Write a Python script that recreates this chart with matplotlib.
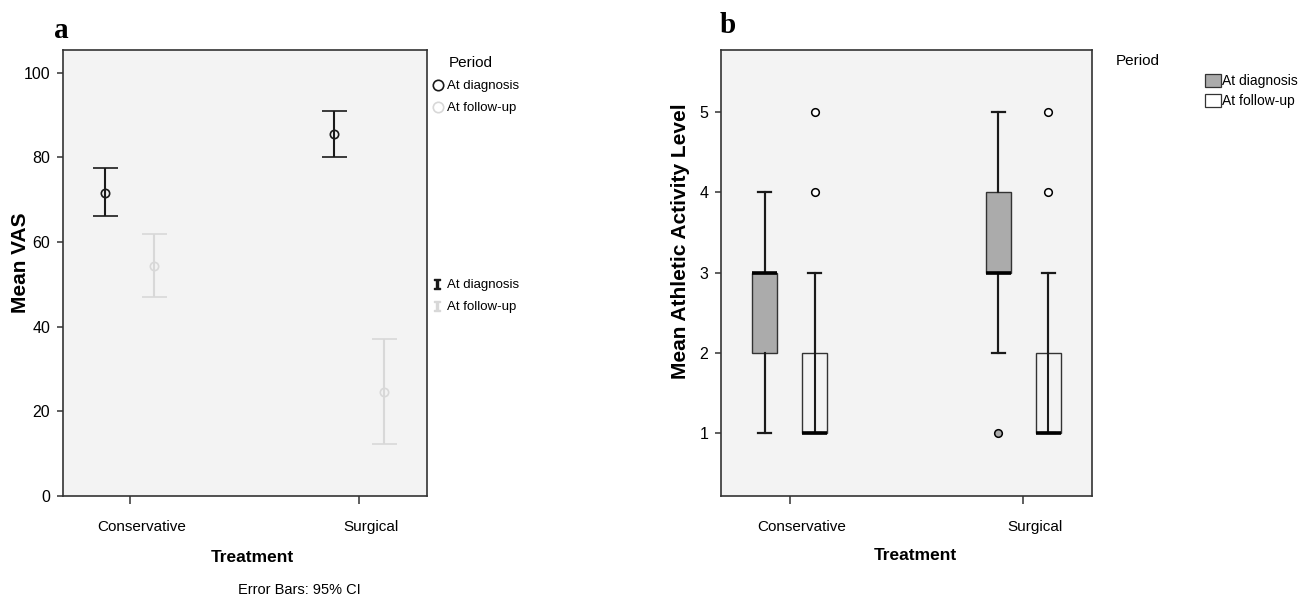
import matplotlib
matplotlib.use("Agg")
import numpy as np
from matplotlib import pyplot as plt
from matplotlib import transforms, font_manager
from matplotlib.lines import Line2D
from matplotlib.patches import Patch

# ---- data ----
treatments = ["Conservative", "Surgical"]
periods = ["At diagnosis", "At follow-up"]

# panel a: mean VAS with 95% CI
vas_mean_diag = [71.7, 85.5]
vas_low_diag = [66.1, 80.2]
vas_high_diag = [77.5, 91.0]
vas_mean_fu = [54.4, 24.6]
vas_low_fu = [47.1, 12.4]
vas_high_fu = [61.8, 37.1]

# panel b: athletic activity level boxplots
act_whislo_diag = [1, 2]
act_q1_diag = [2, 3]
act_med_diag = [3, 3]
act_q3_diag = [3, 4]
act_whishi_diag = [4, 5]
act_fliers_diag = [[], [1]]

act_whislo_fu = [1, 1]
act_q1_fu = [1, 1]
act_med_fu = [1, 1]
act_q3_fu = [2, 2]
act_whishi_fu = [3, 3]
act_fliers_fu = [[4, 5], [4, 5]]

# ---- style ----
W, H = 1310, 598
installed = {f.name for f in font_manager.fontManager.ttflist}
if "Liberation Sans Narrow" in installed:
    plt.rcParams['font.family'] = ["Liberation Sans Narrow", "DejaVu Sans"]
    k = 1.12   # narrow font can be set a bit larger
else:
    plt.rcParams['font.family'] = ["Liberation Sans", "DejaVu Sans"]
    k = 1.0
BG = "#f3f3f3"
DARK = "#1a1a1a"
LIGHT = "#d8d8d8"
GRAY = "#ababab"
SPINE = "#333333"
off = 0.107


def px(x, y):
    return x / W, 1 - y / H


fig = plt.figure(figsize=(W / 100, H / 100), dpi=100)


def style_axes(ax):
    ax.set_facecolor(BG)
    for s in ax.spines.values():
        s.set_color(SPINE)
        s.set_linewidth(1.2)
    ax.tick_params(axis='y', length=4.5, width=1.1, pad=4.5, labelsize=11.5 * k, color=SPINE)
    ax.tick_params(axis='x', length=6, width=1.1, pad=11, labelsize=11 * k, color=SPINE)
    ax.set_xticks([0, 1])
    ax.set_xticklabels(treatments)
    shift = transforms.ScaledTranslation(0.12, 0, fig.dpi_scale_trans)
    for lab in ax.get_xticklabels():
        lab.set_transform(lab.get_transform() + shift)


# ---- panel a ----
ax1 = fig.add_axes([62.7 / W, 102 / H, 364 / W, 446 / H])
style_axes(ax1)
x = np.arange(len(treatments))
m = np.array(vas_mean_diag)
ax1.errorbar(x - off, m, yerr=[m - np.array(vas_low_diag), np.array(vas_high_diag) - m],
             fmt='o', mfc='none', mec=DARK, ms=6, mew=1.2, ecolor=DARK, elinewidth=1.5,
             capsize=9, capthick=1.6)
m = np.array(vas_mean_fu)
ax1.errorbar(x + off, m, yerr=[m - np.array(vas_low_fu), np.array(vas_high_fu) - m],
             fmt='o', mfc='none', mec=LIGHT, ms=6, mew=1.2, ecolor=LIGHT, elinewidth=1.5,
             capsize=9, capthick=1.6)
ax1.set_xlim(-0.292, 1.295)
ax1.set_ylim(0, 105.4)
ax1.set_yticks([0, 20, 40, 60, 80, 100])

h_circ = [Line2D([], [], ls='none', marker='o', mfc='none', mec=DARK, ms=7.5, mew=1.2),
          Line2D([], [], ls='none', marker='o', mfc='none', mec=LIGHT, ms=7.5, mew=1.2)]
fig.legend(h_circ, periods, loc='upper left', bbox_to_anchor=px(434.5, 80),
           frameon=False, fontsize=9.5 * k, borderpad=0, borderaxespad=0,
           handlelength=0.6, handletextpad=0.35, labelspacing=0.75)
fig.text(*px(471, 63), "Period", fontsize=11 * k, ha='center', va='center')

h_bar = [Line2D([], [], ls='none', marker=r'$\mathtt{I}$', color=DARK, ms=7),
         Line2D([], [], ls='none', marker=r'$\mathtt{I}$', color=LIGHT, ms=7)]
fig.legend(h_bar, periods, loc='upper left', bbox_to_anchor=px(433, 279),
           frameon=False, fontsize=9.5 * k, borderpad=0, borderaxespad=0,
           handlelength=0.6, handletextpad=0.45, labelspacing=0.75)

fig.text(*px(21, 263), "Mean VAS", rotation=90, ha='center', va='center',
         fontsize=15, fontweight='bold', family=["Liberation Sans", "DejaVu Sans"])
fig.text(*px(252.7, 558), "Treatment", ha='center', va='center', fontsize=12.5 * k, fontweight='bold')
fig.text(*px(299, 590), "Error Bars: 95% CI", ha='center', va='center', fontsize=10.5 * k)
fig.text(*px(54, 38), "a", ha='left', va='baseline', fontsize=21, fontweight='bold',
         family=["Liberation Serif", "DejaVu Serif"])

# ---- panel b ----
ax2 = fig.add_axes([720.7 / W, 102 / H, 371.3 / W, 446 / H])
style_axes(ax2)


def make_stats(lo, q1, med, q3, hi, fl):
    return [dict(whislo=lo[i], q1=q1[i], med=med[i], q3=q3[i], whishi=hi[i], fliers=fl[i])
            for i in range(len(lo))]


stats_diag = make_stats(act_whislo_diag, act_q1_diag, act_med_diag, act_q3_diag,
                        act_whishi_diag, act_fliers_diag)
stats_fu = make_stats(act_whislo_fu, act_q1_fu, act_med_fu, act_q3_fu,
                      act_whishi_fu, act_fliers_fu)

for stats, pos, face, fface in [(stats_diag, x - off, GRAY, GRAY),
                                 (stats_fu, x + off, 'none', 'white')]:
    # full whisker line, visible through the unfilled boxes
    ax2.vlines(pos, [s['whislo'] for s in stats], [s['whishi'] for s in stats],
               color=DARK, lw=1.5, zorder=1.5)
    ax2.bxp(stats, positions=pos, widths=0.107, patch_artist=True, capwidths=0.058,
            boxprops=dict(facecolor=face, edgecolor=SPINE, lw=1.0),
            whiskerprops=dict(color=DARK, lw=1.5),
            capprops=dict(color=DARK, lw=1.6),
            medianprops=dict(color='black', lw=2.6, solid_capstyle='butt'),
            flierprops=dict(marker='o', mfc=fface, mec='black', ms=5.5, mew=1.1),
            manage_ticks=False)

ax2.set_ylim(0.22, 5.77)
ax2.set_yticks([1, 2, 3, 4, 5])
ax2.set_xlim(-0.295, 1.294)

h_patch = [Patch(facecolor=GRAY, edgecolor=SPINE, lw=0.9),
           Patch(facecolor='white', edgecolor=SPINE, lw=0.9)]
fig.legend(h_patch, periods, loc='upper left', bbox_to_anchor=px(1205, 74),
           frameon=False, fontsize=10 * k, borderpad=0, borderaxespad=0,
           handlelength=1.15, handleheight=1.05, handletextpad=0.1, labelspacing=0.42)
fig.text(*px(1137.5, 61), "Period", fontsize=11 * k, ha='center', va='center')

fig.text(*px(681, 241.5), "Mean Athletic Activity Level", rotation=90, ha='center',
         va='center', fontsize=15, fontweight='bold', family=["Liberation Sans", "DejaVu Sans"])
fig.text(*px(915, 555), "Treatment", ha='center', va='center', fontsize=12.5 * k, fontweight='bold')
fig.text(*px(720, 33), "b", ha='left', va='baseline', fontsize=21, fontweight='bold',
         family=["Liberation Serif", "DejaVu Serif"])

fig.savefig("out.png", dpi=100, facecolor='white')
